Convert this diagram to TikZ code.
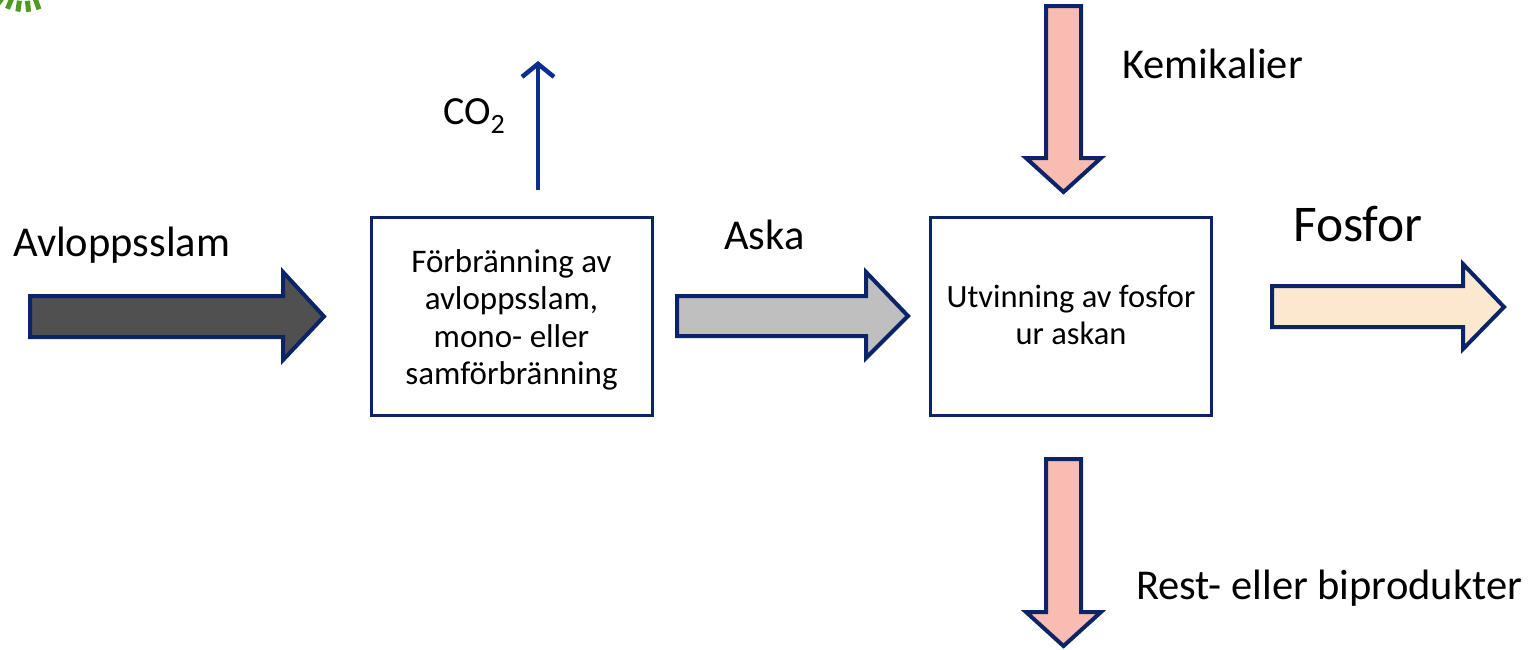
\documentclass[tikz,border=0pt]{standalone}
\usepackage{fontspec}
\setmainfont{Carlito}
\usetikzlibrary{arrows.meta,calc}
\definecolor{navy}{HTML}{0B2468}
\definecolor{co2blue}{HTML}{0D2E8F}
\definecolor{darkfill}{HTML}{505050}
\definecolor{grayfill}{HTML}{BFBFBF}
\definecolor{pinkfill}{HTML}{F8BCB2}
\definecolor{creamfill}{HTML}{FBE8CF}
\definecolor{logogreen}{HTML}{4E9A22}
\tikzset{
  blockarrow/.style={draw=navy, line width=4pt, line join=miter},
  procbox/.style={draw=navy, line width=3pt, minimum width=281pt, minimum height=198pt, align=center, inner sep=0pt},
  lbl/.style={inner sep=0pt, font=\fontsize{42.5}{50}\selectfont},
}
\begin{document}
\begin{tikzpicture}[x=1pt,y=-1pt]
\useasboundingbox (0,0) rectangle (1531,649);
% logo fragment
\foreach \a in {70,84,98,112,126}{
  \draw[logogreen, line width=5pt] ($(24,-32)+(\a:33)$) -- ($(24,-32)+(\a:44)$);
}
% boxes
\node[procbox, font=\fontsize{33}{37.3}\selectfont] (burn) at (511.5,316) {};
\node[align=center, inner sep=0pt, font=\fontsize{33}{37.3}\selectfont] (burntext) at ([yshift=-4pt]burn.center) {Förbränning av\\avloppsslam,\\mono- eller\\samförbränning};
\node[procbox] (recov) at (1071,316) {};
\node[align=center, inner sep=0pt, font=\fontsize{32.5}{37}\selectfont] (recovtext) at ([yshift=1.5pt]recov.center) {Utvinning av fosfor\\ur askan};
% input arrow (sludge)
\draw[blockarrow, fill=darkfill] (30,296) -- (283,296) -- (283,272) -- (324,316.5) -- (283,360) -- (283,337) -- (30,337) -- cycle;
\node[lbl, anchor=west] (slam) at (13,245.5) {Avloppsslam};
% ash arrow
\draw[blockarrow, fill=grayfill] (677,296) -- (866,296) -- (866,272) -- (908,316) -- (866,358) -- (866,336) -- (677,336) -- cycle;
\node[lbl, anchor=west] (aska) at (724,235) {Aska};
% phosphorus arrow
\draw[blockarrow, fill=creamfill] (1272,286) -- (1463,286) -- (1463,264) -- (1504,307) -- (1463,349) -- (1463,327) -- (1272,327) -- cycle;
\node[inner sep=0pt, anchor=west, font=\fontsize{51.5}{60}\selectfont] (fosfor) at (1293,224) {Fosfor};
% chemicals arrow
\draw[blockarrow, fill=pinkfill] (1046,6) -- (1081,6) -- (1081,158) -- (1101,158) -- (1063.5,192) -- (1026,158) -- (1046,158) -- cycle;
\node[lbl, anchor=west] (kem) at (1122,64) {Kemikalier};
% residue arrow
\draw[blockarrow, fill=pinkfill] (1046,459) -- (1081,459) -- (1081,612) -- (1101,612) -- (1063.5,646) -- (1026,612) -- (1046,612) -- cycle;
\node[lbl, anchor=west] (rest) at (1136,588) {Rest- eller biprodukter};
% CO2
\coordinate (co2top) at (538,61);
\draw[co2blue, line width=4pt, -{Straight Barb[length=13pt,width=32pt,line width=4.5pt]}] (burn.north -| co2top) ++(0,-26) -- (co2top);
\node[inner sep=0pt, anchor=west, font=\fontsize{40}{48}\selectfont] (co2) at (443,116) {CO\textsubscript{2}};
\end{tikzpicture}
\end{document}
